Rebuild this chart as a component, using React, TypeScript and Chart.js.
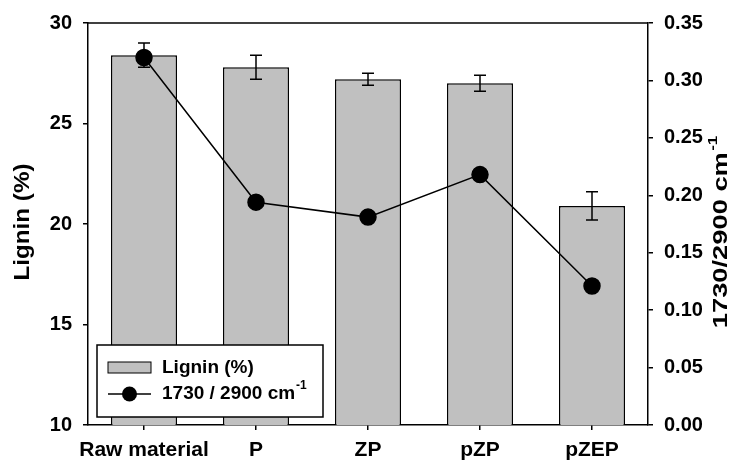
import React, { useEffect, useRef } from "react";
import { Chart, registerables } from "chart.js";

Chart.register(...registerables);

const categories = ["Raw material", "P", "ZP", "pZP", "pZEP"];
const lignin = [28.4, 27.8, 27.2, 27.0, 20.9];
const ligninErr = [0.6, 0.6, 0.3, 0.4, 0.7];
const ratio = [0.32, 0.194, 0.181, 0.218, 0.121];
const leftTicks = [10, 15, 20, 25, 30];
const rightTicks = [0, 0.05, 0.1, 0.15, 0.2, 0.25, 0.3, 0.35];

const FONT = "'Liberation Sans', Arial, sans-serif";

const PLOT_LEFT = 88;
const PLOT_RIGHT = 648;
const PLOT_TOP = 23;
const PLOT_BOTTOM = 425;
const W = 749;
const H = 466;

const decorPlugin = {
  id: "decor",
  afterDatasetDraw(chart: any, args: any) {
    if (args.index !== 0) return;
    const ctx = chart.ctx;
    const meta = chart.getDatasetMeta(0);
    const ys = chart.scales.y;
    ctx.save();
    ctx.strokeStyle = "#000";
    ctx.lineWidth = 1.5;
    meta.data.forEach((bar: any, i: number) => {
      const x = bar.x;
      const yt = ys.getPixelForValue(lignin[i] + ligninErr[i]);
      const yb = ys.getPixelForValue(lignin[i] - ligninErr[i]);
      ctx.beginPath();
      ctx.moveTo(x, yt);
      ctx.lineTo(x, yb);
      ctx.moveTo(x - 6, yt);
      ctx.lineTo(x + 6, yt);
      ctx.moveTo(x - 6, yb);
      ctx.lineTo(x + 6, yb);
      ctx.stroke();
    });
    ctx.restore();
  },
  afterDraw(chart: any) {
    const ctx = chart.ctx;
    const area = chart.chartArea;
    ctx.save();
    // top frame line
    ctx.strokeStyle = "#000";
    ctx.lineWidth = 1.5;
    ctx.beginPath();
    ctx.moveTo(area.left, area.top);
    ctx.lineTo(area.right, area.top);
    ctx.stroke();

    // left axis title
    ctx.fillStyle = "#000";
    ctx.font = `bold 22px ${FONT}`;
    ctx.textAlign = "center";
    ctx.textBaseline = "middle";
    ctx.save();
    ctx.translate(23, 222);
    ctx.rotate(-Math.PI / 2);
    ctx.scale(1.1, 1);
    ctx.fillText("Lignin (%)", 0, 0);
    ctx.restore();

    // right axis title with superscript
    ctx.save();
    ctx.translate(721, 232);
    ctx.rotate(-Math.PI / 2);
    ctx.scale(1.3, 1);
    ctx.font = `bold 21px ${FONT}`;
    const main = "1730/2900 cm";
    const mw = ctx.measureText(main).width;
    ctx.font = `bold 13px ${FONT}`;
    const sw = ctx.measureText("-1").width;
    const total = mw + sw + 1;
    ctx.textAlign = "left";
    ctx.textBaseline = "middle";
    ctx.font = `bold 21px ${FONT}`;
    ctx.fillText(main, -total / 2, 0);
    ctx.font = `bold 13px ${FONT}`;
    ctx.fillText("-1", -total / 2 + mw + 1, -8);
    ctx.restore();

    // legend box
    const lx = 97, ly = 345, lw = 226, lh = 72;
    ctx.fillStyle = "#fff";
    ctx.fillRect(lx, ly, lw, lh);
    ctx.strokeStyle = "#000";
    ctx.lineWidth = 1.5;
    ctx.strokeRect(lx, ly, lw, lh);
    // bar swatch
    ctx.fillStyle = "#c0c0c0";
    ctx.fillRect(108, 362, 43, 11);
    ctx.lineWidth = 1;
    ctx.strokeRect(108, 362, 43, 11);
    ctx.fillStyle = "#000";
    ctx.font = `bold 19px ${FONT}`;
    ctx.textAlign = "left";
    ctx.textBaseline = "middle";
    ctx.fillText("Lignin (%)", 162, 368);
    // line swatch
    ctx.lineWidth = 1.5;
    ctx.beginPath();
    ctx.moveTo(108, 394);
    ctx.lineTo(151, 394);
    ctx.stroke();
    ctx.beginPath();
    ctx.arc(129.5, 394, 7.5, 0, Math.PI * 2);
    ctx.fill();
    const t2 = "1730 / 2900 cm";
    ctx.fillText(t2, 162, 394);
    const t2w = ctx.measureText(t2).width;
    ctx.font = `bold 12px ${FONT}`;
    ctx.fillText("-1", 162 + t2w + 1, 386);
    ctx.restore();
  },
};

export default function App() {
  const ref = useRef<HTMLCanvasElement | null>(null);
  useEffect(() => {
    if (!ref.current) return;
    const tickFont = { family: FONT, size: 20, weight: "bold" as const };
    const xTickFont = { family: FONT, size: 21, weight: "bold" as const };
    const chart = new Chart(ref.current, {
      type: "bar",
      data: {
        labels: categories,
        datasets: [
          {
            type: "bar",
            label: "Lignin (%)",
            data: lignin,
            yAxisID: "y",
            backgroundColor: "#c0c0c0",
            borderColor: "#000",
            borderWidth: 1.5,
            barPercentage: 0.59,
            categoryPercentage: 1,
            order: 1,
          } as any,
          {
            type: "line",
            label: "1730 / 2900 cm-1",
            data: ratio,
            yAxisID: "y1",
            borderColor: "#000",
            borderWidth: 1.5,
            backgroundColor: "#000",
            pointBackgroundColor: "#000",
            pointBorderColor: "#000",
            pointRadius: 8,
            tension: 0,
            order: 0,
          } as any,
        ],
      },
      options: {
        animation: false,
        responsive: false,
        maintainAspectRatio: false,
        layout: { padding: { top: PLOT_TOP, left: 0, right: 0, bottom: 0 } },
        plugins: {
          legend: { display: false },
          tooltip: { enabled: false },
          title: { display: false },
        },
        scales: {
          x: {
            type: "category",
            offset: true,
            grid: {
              offset: false,
              drawOnChartArea: false,
              drawTicks: true,
              tickLength: 5,
              color: "#000",
              lineWidth: 1.5,
            },
            border: { display: true, color: "#000", width: 1.5 },
            ticks: { font: xTickFont, color: "#000", padding: 8, maxRotation: 0, autoSkip: false },
            afterFit: (s: any) => {
              s.height = H - PLOT_BOTTOM;
            },
          },
          y: {
            type: "linear",
            position: "left",
            min: 10,
            max: 30,
            afterBuildTicks: (s: any) => {
              s.ticks = leftTicks.map((v) => ({ value: v }));
            },
            grid: {
              drawOnChartArea: false,
              drawTicks: true,
              tickLength: 5,
              color: "#000",
              lineWidth: 1.5,
            },
            border: { display: true, color: "#000", width: 1.5 },
            ticks: { font: tickFont, color: "#000", padding: 11 },
            afterFit: (s: any) => {
              s.width = PLOT_LEFT;
            },
          },
          y1: {
            type: "linear",
            position: "right",
            min: 0,
            max: 0.35,
            afterBuildTicks: (s: any) => {
              s.ticks = rightTicks.map((v) => ({ value: v }));
            },
            grid: {
              drawOnChartArea: false,
              drawTicks: true,
              tickLength: 5,
              color: "#000",
              lineWidth: 1.5,
            },
            border: { display: true, color: "#000", width: 1.5 },
            ticks: {
              font: tickFont,
              color: "#000",
              padding: 11,
              callback: (v: any) => Number(v).toFixed(2),
            },
            afterFit: (s: any) => {
              s.width = W - PLOT_RIGHT;
            },
          },
        },
      },
      plugins: [decorPlugin],
    });
    return () => chart.destroy();
  }, []);
  return (
    <div style={{ position: "fixed", left: 0, top: 0, width: W, height: H, background: "#fff" }}>
      <canvas ref={ref} width={W} height={H} style={{ width: W, height: H, display: "block" }} />
    </div>
  );
}
